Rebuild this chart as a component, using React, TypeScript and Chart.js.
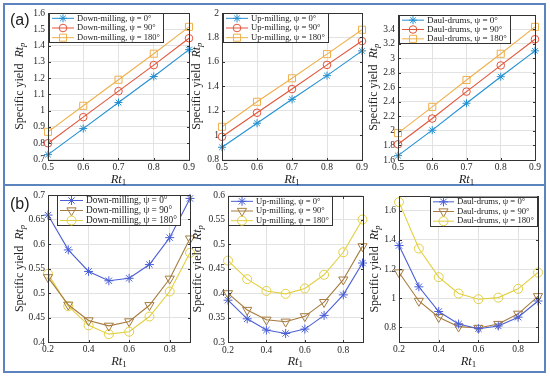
import React, { useEffect, useRef } from "react";
import { Chart, registerables } from "chart.js";
Chart.register(...registerables);

// ---------------- data ----------------
const rtA = [0.5, 0.6, 0.7, 0.8, 0.9];
const rtB = [0.2, 0.3, 0.4, 0.5, 0.6, 0.7, 0.8, 0.9];

const downA0 = [0.73, 0.89, 1.05, 1.21, 1.375];
const downA90 = [0.8, 0.96, 1.12, 1.28, 1.445];
const downA180 = [0.87, 1.03, 1.19, 1.35, 1.515];
const upA0 = [0.9, 1.097, 1.293, 1.487, 1.69];
const upA90 = [0.986, 1.183, 1.377, 1.575, 1.77];
const upA180 = [1.068, 1.273, 1.465, 1.663, 1.863];
const drumA0 = [1.66, 2.01, 2.38, 2.745, 3.1];
const drumA90 = [1.816, 2.17, 2.54, 2.9, 3.26];
const drumA180 = [1.97, 2.33, 2.7, 3.06, 3.43];

const downB0 = [0.659, 0.588, 0.544, 0.525, 0.53, 0.558, 0.613, 0.693];
const downB90 = [0.532, 0.476, 0.444, 0.433, 0.442, 0.475, 0.529, 0.611];
const downB180 = [0.539, 0.473, 0.434, 0.416, 0.421, 0.452, 0.503, 0.582];
const upB0 = [0.386, 0.348, 0.325, 0.318, 0.327, 0.355, 0.397, 0.462];
const upB90 = [0.4, 0.366, 0.346, 0.342, 0.353, 0.382, 0.428, 0.496];
const upB180 = [0.467, 0.429, 0.405, 0.399, 0.41, 0.438, 0.484, 0.551];
const drumB0 = [1.361, 1.078, 0.909, 0.823, 0.791, 0.81, 0.87, 0.981];
const drumB90 = [1.176, 0.981, 0.87, 0.805, 0.796, 0.823, 0.893, 1.013];
const drumB180 = [1.658, 1.34, 1.144, 1.032, 0.993, 1.004, 1.064, 1.176];

const xTicksA = [0.5, 0.6, 0.7, 0.8, 0.9];
const xTicksB = [0.2, 0.4, 0.6, 0.8];
const yTicksA1 = [0.7, 0.8, 0.9, 1, 1.1, 1.2, 1.3, 1.4, 1.5, 1.6];
const yTicksA2 = [0.8, 1, 1.2, 1.4, 1.6, 1.8, 2];
const yTicksA3 = [1.6, 1.8, 2, 2.2, 2.4, 2.6, 2.8, 3, 3.2, 3.4];
const yTicksB1 = [0.4, 0.45, 0.5, 0.55, 0.6, 0.65, 0.7];
const yTicksB2 = [0.3, 0.35, 0.4, 0.45, 0.5, 0.55, 0.6];
const yTicksB3 = [0.8, 1, 1.2, 1.4, 1.6];

const labelsDown = ["Down-milling, ψ = 0°", "Down-milling, ψ = 90°", "Down-milling, ψ = 180°"];
const labelsUp = ["Up-milling, ψ = 0°", "Up-milling, ψ = 90°", "Up-milling, ψ = 180°"];
const labelsDrum = ["Daul-drums, ψ = 0°", "Daul-drums, ψ = 90°", "Daul-drums, ψ = 180°"];

// ---------------- styles ----------------
const W = 550;
const H = 377;
const FAM = '"Liberation Serif", "Times New Roman", serif';
const colA = ["#2390d2", "#e2553a", "#efb04c"];
const colB = ["#4b5fd6", "#a67b3d", "#e2cf40"];
const markA = [
  { style: "star", r: 4, rot: 0 },
  { style: "circle", r: 3.8, rot: 0 },
  { style: "rect", r: 5, rot: 0 },
];
const markB = [
  { style: "star", r: 4.5, rot: 0 },
  { style: "triangle", r: 5.3, rot: 180 },
  { style: "circle", r: 4.5, rot: 0 },
];

type Cfg = {
  x: number[];
  ys: number[][];
  labels: string[];
  cols: string[];
  marks: { style: string; r: number; rot: number }[];
  xMin: number; xMax: number; yMin: number; yMax: number;
  xTicks: number[]; yTicks: number[];
  rect: { l: number; t: number; r: number; b: number };
  legend: { x: number; y: number; w: number; h: number; off: number };
  yTitleX: number; xTitleY: number;
};

const panels: Cfg[] = [
  {
    x: rtA, ys: [downA0, downA90, downA180], labels: labelsDown, cols: colA, marks: markA,
    xMin: 0.5, xMax: 0.9, yMin: 0.7, yMax: 1.6, xTicks: xTicksA, yTicks: yTicksA1,
    rect: { l: 48, t: 13, r: 189, b: 159.5 },
    legend: { x: 49, y: 13, w: 114, h: 29, off: 28 }, yTitleX: 20, xTitleY: 180,
  },
  {
    x: rtA, ys: [upA0, upA90, upA180], labels: labelsUp, cols: colA, marks: markA,
    xMin: 0.5, xMax: 0.9, yMin: 0.8, yMax: 2, xTicks: xTicksA, yTicks: yTicksA2,
    rect: { l: 222, t: 13, r: 362, b: 159.5 },
    legend: { x: 223, y: 13, w: 105, h: 29, off: 28 }, yTitleX: 197, xTitleY: 180,
  },
  {
    x: rtA, ys: [drumA0, drumA90, drumA180], labels: labelsDrum, cols: colA, marks: markA,
    xMin: 0.5, xMax: 0.9, yMin: 1.6, yMax: 3.6, xTicks: xTicksA, yTicks: yTicksA3,
    rect: { l: 398, t: 14.5, r: 535, b: 160 },
    legend: { x: 399, y: 15, w: 111, h: 28, off: 28 }, yTitleX: 374, xTitleY: 180,
  },
  {
    x: rtB, ys: [downB0, downB90, downB180], labels: labelsDown, cols: colB, marks: markB,
    xMin: 0.2, xMax: 0.9, yMin: 0.4, yMax: 0.7, xTicks: xTicksB, yTicks: yTicksB1,
    rect: { l: 48, t: 195, r: 190, b: 342 },
    legend: { x: 57, y: 195, w: 123, h: 30, off: 29 }, yTitleX: 20, xTitleY: 362,
  },
  {
    x: rtB, ys: [upB0, upB90, upB180], labels: labelsUp, cols: colB, marks: markB,
    xMin: 0.2, xMax: 0.9, yMin: 0.3, yMax: 0.6, xTicks: xTicksB, yTicks: yTicksB2,
    rect: { l: 228, t: 195.5, r: 362.5, b: 342.3 },
    legend: { x: 228, y: 196, w: 104, h: 29, off: 28 }, yTitleX: 198, xTitleY: 362,
  },
  {
    x: rtB, ys: [drumB0, drumB90, drumB180], labels: labelsDrum, cols: colB, marks: markB,
    xMin: 0.2, xMax: 0.9, yMin: 0.7, yMax: 1.7, xTicks: xTicksB, yTicks: yTicksB3,
    rect: { l: 399, t: 196, r: 538, b: 342 },
    legend: { x: 430, y: 196.5, w: 107, h: 29, off: 27 }, yTitleX: 375, xTitleY: 362,
  },
];

const fmt = (v: number) => String(parseFloat(Number(v).toFixed(3)));

function drawMarker(ctx: CanvasRenderingContext2D, style: string, x: number, y: number, r: number, rot: number) {
  ctx.beginPath();
  if (style === "circle") {
    ctx.arc(x, y, r, 0, Math.PI * 2);
  } else if (style === "rect") {
    const s = Math.SQRT1_2 * r;
    ctx.rect(x - s, y - s, 2 * s, 2 * s);
  } else if (style === "triangle") {
    let a = (rot * Math.PI) / 180;
    ctx.moveTo(x + Math.sin(a) * r, y - Math.cos(a) * r);
    a += (2 * Math.PI) / 3;
    ctx.lineTo(x + Math.sin(a) * r, y - Math.cos(a) * r);
    a += (2 * Math.PI) / 3;
    ctx.lineTo(x + Math.sin(a) * r, y - Math.cos(a) * r);
    ctx.closePath();
  } else {
    for (let k = 0; k < 4; k++) {
      const a = (k * Math.PI) / 4;
      ctx.moveTo(x - Math.cos(a) * r, y - Math.sin(a) * r);
      ctx.lineTo(x + Math.cos(a) * r, y + Math.sin(a) * r);
    }
  }
  ctx.stroke();
}

function makePlugin(cfg: Cfg) {
  return {
    id: "frameLegend",
    afterDraw(chart: any) {
      const ctx: CanvasRenderingContext2D = chart.ctx;
      const ca = chart.chartArea;
      const L = Math.round(ca.left) + 0.5;
      const T = Math.round(ca.top) + 0.5;
      const R = Math.round(ca.right) + 0.5;
      const B = Math.round(ca.bottom) + 0.5;
      ctx.save();
      ctx.strokeStyle = "#333";
      ctx.lineWidth = 1;
      ctx.strokeRect(L, T, R - L, B - T);
      // inward ticks
      ctx.beginPath();
      cfg.xTicks.forEach((v) => {
        const px = Math.round(chart.scales.x.getPixelForValue(v)) + 0.5;
        ctx.moveTo(px, B); ctx.lineTo(px, B - 2.5);
        ctx.moveTo(px, T); ctx.lineTo(px, T + 2.5);
      });
      cfg.yTicks.forEach((v) => {
        const py = Math.round(chart.scales.y.getPixelForValue(v)) + 0.5;
        ctx.moveTo(L, py); ctx.lineTo(L + 2.5, py);
        ctx.moveTo(R, py); ctx.lineTo(R - 2.5, py);
      });
      ctx.stroke();

      // legend
      const lg = cfg.legend;
      ctx.fillStyle = "#fff";
      ctx.fillRect(lg.x, lg.y, lg.w, lg.h);
      ctx.strokeStyle = "#333";
      ctx.strokeRect(Math.round(lg.x) + 0.5, Math.round(lg.y) + 0.5, lg.w, lg.h);
      ctx.font = `10px ${FAM}`;
      const maxW = Math.max(...cfg.labels.map((t) => ctx.measureText(t).width));
      const fs = Math.min(11, (10 * (lg.w - lg.off - 3)) / maxW);
      cfg.labels.forEach((lab, i) => {
        const cy = lg.y + (lg.h * (2 * i + 1)) / 6 + 0.5;
        ctx.strokeStyle = cfg.cols[i];
        ctx.lineWidth = 1;
        ctx.beginPath();
        ctx.moveTo(lg.x + 3, cy);
        ctx.lineTo(lg.x + lg.off - 3, cy);
        ctx.stroke();
        const m = cfg.marks[i];
        drawMarker(ctx, m.style, lg.x + lg.off / 2, cy, m.r, m.rot);
        ctx.fillStyle = "#222";
        ctx.font = `${fs}px ${FAM}`;
        ctx.textBaseline = "middle";
        ctx.textAlign = "left";
        ctx.fillText(lab, lg.x + lg.off, cy);
      });

      // y title
      ctx.save();
      ctx.translate(cfg.yTitleX, (ca.top + ca.bottom) / 2);
      ctx.rotate(-Math.PI / 2);
      const f1 = `12px ${FAM}`, f2 = `italic 12px ${FAM}`, f3 = `italic 8.5px ${FAM}`;
      const t1 = "Specific yield  ", t2 = "Rt", t3 = "p";
      ctx.font = f1; const w1 = ctx.measureText(t1).width;
      ctx.font = f2; const w2 = ctx.measureText(t2).width;
      ctx.font = f3; const w3 = ctx.measureText(t3).width;
      let sx = -(w1 + w2 + w3) / 2;
      ctx.fillStyle = "#222";
      ctx.textBaseline = "middle";
      ctx.textAlign = "left";
      ctx.font = f1; ctx.fillText(t1, sx, 0); sx += w1;
      ctx.font = f2; ctx.fillText(t2, sx, 0); sx += w2;
      ctx.font = f3; ctx.fillText(t3, sx, 3);
      ctx.restore();

      // x title
      const g1 = `italic 12.5px ${FAM}`, g2 = `9px ${FAM}`;
      ctx.font = g1; const v1 = ctx.measureText("Rt").width;
      ctx.font = g2; const v2 = ctx.measureText("1").width;
      let xx = (ca.left + ca.right) / 2 - (v1 + v2) / 2;
      ctx.fillStyle = "#222";
      ctx.textBaseline = "middle";
      ctx.font = g1; ctx.fillText("Rt", xx, cfg.xTitleY); xx += v1;
      ctx.font = g2; ctx.fillText("1", xx, cfg.xTitleY + 3);
      ctx.restore();
    },
  };
}

function SubPlot({ cfg }: { cfg: Cfg }) {
  const ref = useRef<HTMLCanvasElement>(null);
  useEffect(() => {
    const c = ref.current;
    if (!c) return;
    const YW = 40;
    const XH = 14;
    const { l, t, r, b } = cfg.rect;
    const chart = new Chart(c, {
      type: "line",
      data: {
        datasets: cfg.ys.map((ys, i) => ({
          label: cfg.labels[i],
          data: cfg.x.map((x, k) => ({ x, y: ys[k] })),
          borderColor: cfg.cols[i],
          backgroundColor: "rgba(0,0,0,0)",
          borderWidth: 1.1,
          pointStyle: cfg.marks[i].style as any,
          pointRadius: cfg.marks[i].r,
          pointHoverRadius: cfg.marks[i].r,
          pointBorderColor: cfg.cols[i],
          pointBackgroundColor: "rgba(0,0,0,0)",
          pointBorderWidth: 1,
          pointRotation: cfg.marks[i].rot,
          tension: 0,
          fill: false,
          clip: false as any,
        })),
      },
      options: {
        responsive: false,
        animation: false,
        devicePixelRatio: 1,
        events: [],
        layout: { padding: { left: l - YW, top: t, right: W - r, bottom: H - b - XH } },
        plugins: { legend: { display: false }, tooltip: { enabled: false }, title: { display: false } },
        scales: {
          x: {
            type: "linear",
            min: cfg.xMin,
            max: cfg.xMax,
            afterFit: (s: any) => { s.height = XH; },
            afterBuildTicks: (s: any) => { s.ticks = cfg.xTicks.map((v) => ({ value: v })); },
            ticks: { font: { family: FAM, size: 9.5 }, color: "#262626", padding: 2, maxRotation: 0, autoSkip: false, callback: (v: any) => fmt(v) },
            grid: { color: "#e2e2e2", drawTicks: false, lineWidth: 1 },
            border: { display: false },
          },
          y: {
            type: "linear",
            min: cfg.yMin,
            max: cfg.yMax,
            afterFit: (s: any) => { s.width = YW; },
            afterBuildTicks: (s: any) => { s.ticks = cfg.yTicks.map((v) => ({ value: v })); },
            ticks: { font: { family: FAM, size: 9.5 }, color: "#262626", padding: 3, autoSkip: false, callback: (v: any) => fmt(v) },
            grid: { color: "#e2e2e2", drawTicks: false, lineWidth: 1 },
            border: { display: false },
          },
        },
      },
      plugins: [makePlugin(cfg)],
    } as any);
    return () => chart.destroy();
  }, [cfg]);
  return <canvas ref={ref} width={W} height={H} style={{ position: "absolute", left: 0, top: 0 }} />;
}

export default function App() {
  const frame = "#5b84bf";
  const lab: React.CSSProperties = {
    position: "absolute",
    fontFamily: '"Liberation Sans", Arial, sans-serif',
    fontSize: 16,
    color: "#222",
    lineHeight: "18px",
  };
  return (
    <div style={{ position: "fixed", left: 0, top: 0, width: W, height: H, background: "#fff", overflow: "hidden" }}>
      <div style={{ position: "absolute", left: 3, top: 3, width: 543, height: 183, border: `2px solid ${frame}`, boxSizing: "border-box" }} />
      <div style={{ position: "absolute", left: 3, top: 184, width: 543, height: 189, border: `2px solid ${frame}`, boxSizing: "border-box" }} />
      {panels.map((p, i) => (
        <SubPlot key={i} cfg={p} />
      ))}
      <div style={{ ...lab, left: 10, top: 11 }}>(a)</div>
      <div style={{ ...lab, left: 10, top: 195 }}>(b)</div>
    </div>
  );
}
